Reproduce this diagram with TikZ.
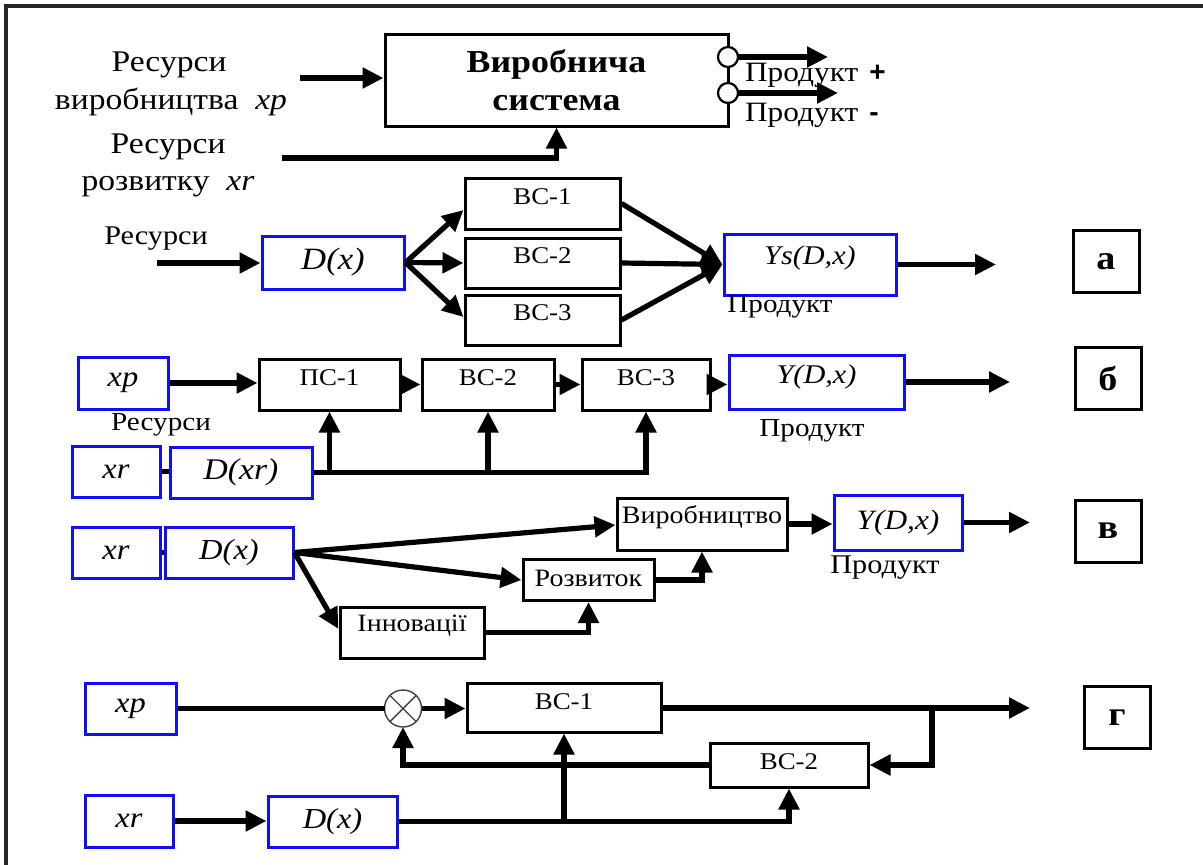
\documentclass[tikz,border=0pt]{standalone}
\usepackage{fontspec}
\setmainfont[FakeStretch=1.12]{Liberation Serif}
\newfontfamily\signfont{Liberation Sans}
\usetikzlibrary{arrows.meta}
\definecolor{boxblue}{RGB}{15,15,245}
\newcommand\sz[1]{\fontsize{#1}{#1}\selectfont}

\begin{document}
\begin{tikzpicture}[x=1pt, y=-1pt,
  every node/.style={inner sep=0pt, outer sep=0pt},
  blk/.style={draw=black, line width=3pt, fill=white, outer sep=1.5pt},
  bbox/.style={blk, draw=boxblue},
  lab/.style={blk, minimum width=66pt, minimum height=62pt, font=\sz{34}\bfseries},
  txt/.style n args={3}{label={[font=#1, yshift=#2]center:{#3}}},
  conn/.style={line width=5.2pt},
  arr/.style={conn, -{Triangle[length=21pt,width=20pt]}},
  ring/.style={draw=black, line width=2.2pt, circle, minimum size=20pt, fill=white},
]
\useasboundingbox (0,0) rectangle (1203,865);
\draw[line width=3.5pt, black!85] (6,865) -- (6,6) -- (1203,6);

% ---------- production system overview ----------
\node[blk, minimum width=343, minimum height=92, align=center,
      font={\fontsize{32}{38}\selectfont\bfseries}] (vs) at (556.5,80) {Виробнича\\система};
\node[font=\sz{30}, anchor=base] (r1) at (169,71) {Ресурси};
\node[font=\sz{30}, anchor=base] (r2) at (171,109) {виробництва\ \ \textit{xp}};
\node[font=\sz{30}, anchor=base] (r3) at (168,153) {Ресурси};
\node[font=\sz{30}, anchor=base] (r4) at (168,190) {розвитку\ \ \textit{xr}};
\coordinate (pin) at (300,78);
\draw[arr] (pin) -- (pin -| vs.west);
\coordinate (rin) at (282,158);
\draw[arr] (rin) -| (vs.south);
\node[ring] (o1) at (728,57) {};
\node[ring] (o2) at (728,93) {};
\node[font=\sz{28}, anchor=west] (pp) at (745,75) {Продукт\hspace{11pt}{\signfont\bfseries +}};
\node[font=\sz{28}, anchor=west] (pm) at (745,115) {Продукт\hspace{11pt}{\signfont\bfseries -}};
\coordinate (q1) at (828,57);
\coordinate (q2) at (838,94);
\draw[arr, line width=5.5pt] (o1.east) -- (q1);
\draw[arr, line width=5.5pt] (o2.east) -- (o2.east -| q2);

% ---------- scheme a ----------
\node[font=\sz{27}] (ra) at (156,239) {Ресурси};
\node[bbox, minimum width=142, minimum height=53, font=\sz{31}\itshape] (da) at (333,262.5) {D(x)};
\node[blk, minimum width=155, minimum height=51, txt={\sz{24}}{6.5pt}{ВС-1}] (a1) at (542.5,203.5) {};
\node[blk, minimum width=155, minimum height=50, txt={\sz{24}}{7pt}{ВС-2}] (a2) at (542.5,263) {};
\node[blk, minimum width=155, minimum height=50, txt={\sz{24}}{7.5pt}{ВС-3}] (a3) at (542.5,320) {};
\node[bbox, minimum width=172, minimum height=61, txt={\sz{27}\itshape}{6pt}{Ys(D,x)}] (ys) at (810,264.5) {};
\node[font=\sz{26}] (pa) at (780,307) {Продукт};
\node[lab] (la) at (1106,261.5) {а};
\coordinate (ain) at (157,263);
\draw[arr] (ain) -- (ain -| da.west);
\draw[arr] (da.east) -- (a1.west |- 0,210);
\draw[arr] (da.east) -- (a2.west);
\draw[arr] (da.east) -- (a3.west |- 0,317);
\draw[arr] (a1.east) -- (ys.west);
\draw[arr] (a2.east) -- (ys.west);
\draw[arr] (a3.east) -- (ys.west);
\coordinate (aout) at (996,264.5);
\draw[arr] (ys.east) -- (aout);

% ---------- scheme b ----------
\node[bbox, minimum width=90, minimum height=52, font=\sz{29}\itshape] (xpb) at (123,383) {xp};
\node[blk, minimum width=141, minimum height=51, txt={\sz{24}}{6.5pt}{ПС-1}] (b1) at (329.5,384.5) {};
\node[blk, minimum width=132, minimum height=51, txt={\sz{24}}{6.5pt}{ВС-2}] (b2) at (488,384.5) {};
\node[blk, minimum width=128, minimum height=51, txt={\sz{24}}{6.5pt}{ВС-3}] (b3) at (646,384.5) {};
\node[bbox, minimum width=175, minimum height=54, txt={\sz{27}\itshape}{5pt}{Y(D,x)}] (yb) at (816.5,382) {};
\node[font=\sz{26}] (pb) at (812,431) {Продукт};
\node[lab] (lb) at (1108,378) {б};
\node[font=\sz{26}] (rb) at (161,425) {Ресурси};
\node[bbox, minimum width=88, minimum height=51, font=\sz{29}\itshape] (xrb) at (116,471.5) {xr};
\node[bbox, minimum width=142, minimum height=51, font=\sz{30}\itshape] (dxr) at (241,472.5) {D(xr)};
\draw[arr] (xpb.east) -- (xpb.east -| b1.west);
\draw[arr] (b1.east) -- (b2.west);
\draw[arr] (b2.east) -- (b3.west);
\draw[arr] (b3.east) -- (b3.east -| yb.west);
\coordinate (bout) at (1010,382);
\draw[arr] (yb.east) -- (bout);
\draw[conn] (xrb.east) -- (xrb.east -| dxr.west);
\draw[arr] (dxr.east) -| (b3.south);
\draw[arr] (b1.south |- dxr.east) -- (b1.south);
\draw[arr] (b2.south |- dxr.east) -- (b2.south);

% ---------- scheme v ----------
\node[bbox, minimum width=88, minimum height=51, font=\sz{29}\itshape] (xrc) at (116,552.5) {xr};
\node[bbox, minimum width=128, minimum height=51, font=\sz{29}\itshape] (dxc) at (229,552.5) {D(x)};
\node[blk, minimum width=170, minimum height=52, txt={\sz{25}}{7pt}{Виробництво}] (vyr) at (702,524) {};
\node[blk, minimum width=131, minimum height=41, txt={\sz{25}}{2pt}{Розвиток}] (roz) at (588.5,580) {};
\node[blk, minimum width=144, minimum height=51, txt={\sz{25}}{7pt}{Інновації}] (inn) at (412,632.5) {};
\node[bbox, minimum width=128, minimum height=55, font=\sz{28}\itshape] (yc) at (898,522.5) {Y(D,x)};
\node[font=\sz{27}] (pc) at (885,568) {Продукт};
\node[lab] (lc) at (1108,531) {в};
\draw[conn] (xrc.east) -- (dxc.west);
\draw[arr] (dxc.east) -- (vyr.west |- 0,525);
\draw[arr] (dxc.east) -- (roz.west);
\draw[arr] (dxc.east) -- (inn.west |- 0,629);
\draw[arr] (inn.east) -| (roz.south);
\draw[arr] (roz.east) -| (vyr.south);
\draw[arr] (vyr.east) -- (vyr.east -| yc.west);
\coordinate (cout) at (1030,522.5);
\draw[arr] (yc.east) -- (cout);

% ---------- scheme g ----------
\node[bbox, minimum width=91, minimum height=51, font=\sz{29}\itshape] (xpd) at (130.5,708.5) {xp};
\node[draw=black!75, line width=1.4pt, circle, minimum size=37pt, fill=white] (mix) at (403,708.5) {};
\draw[line width=1.4pt, black!75] (mix.north east) -- (mix.south west)
                                  (mix.north west) -- (mix.south east);
\node[blk, minimum width=194, minimum height=49, txt={\sz{24}}{5.5pt}{ВС-1}] (d1) at (564,707.5) {};
\node[blk, minimum width=158, minimum height=44, txt={\sz{24}}{3pt}{ВС-2}] (d2) at (789,765) {};
\node[bbox, minimum width=88, minimum height=52, font=\sz{29}\itshape] (xrd) at (129,821) {xr};
\node[bbox, minimum width=129, minimum height=51, font=\sz{29}\itshape] (dxd) at (332.5,821.5) {D(x)};
\node[lab] (ld) at (1117,717.5) {г};
\draw[conn] (xpd.east) -- (xpd.east -| mix.west);
\draw[arr] (mix.east) -- (mix.east -| d1.west);
\coordinate (dout) at (1030,708);
\draw[arr, line width=6pt] (d1.east |- dout) -- (dout);
\coordinate (jn) at (932,708);
\draw[arr] (jn) |- (d2.east);
\draw[arr] (d2.west) -| (mix.south);
\draw[arr] (xrd.east) -- (xrd.east -| dxd.west);
\draw[arr] (dxd.east) -| (d2.south);
\draw[arr] (d1.south |- dxd.east) -- (d1.south);
\end{tikzpicture}
\end{document}
